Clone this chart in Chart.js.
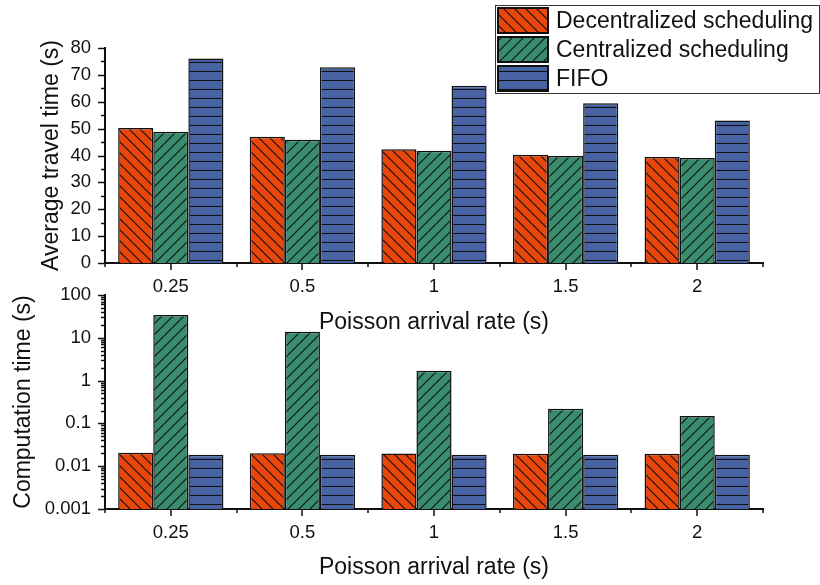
<!DOCTYPE html>
<html>
<head>
<meta charset="utf-8">
<script src="https://cdn.jsdelivr.net/npm/chart.js@4.4.1/dist/chart.umd.min.js"></script>
<style>
  body { margin: 0; background: #fff; width: 820px; height: 585px; overflow: hidden; position: relative; }
  .box { position: absolute; left: 0; width: 820px; }
  #topBox { top: 0; height: 340px; z-index: 2; }
  #botBox { top: 280px; height: 305px; z-index: 1; }
</style>
</head>
<body>
<div class="box" id="topBox"><canvas id="travelChart"></canvas></div>
<div class="box" id="botBox"><canvas id="compChart"></canvas></div>
<script>
// data
const rates = ['0.25', '0.5', '1', '1.5', '2'];
const seriesNames = ['Decentralized scheduling', 'Centralized scheduling', 'FIFO'];

const travelDecentralized = [50.2, 47.0, 42.3, 40.3, 39.4];
const travelCentralized = [48.8, 45.9, 41.8, 39.8, 39.1];
const travelFifo = [76.1, 72.8, 66.0, 59.4, 53.0];

const compDecentralized = [0.0205, 0.0200, 0.0197, 0.0195, 0.0195];
const compCentralized = [34, 13.8, 1.7, 0.22, 0.148];
const compFifo = [0.0186, 0.0185, 0.0185, 0.0185, 0.0184];

const travelTickLabels = ['0', '10', '20', '30', '40', '50', '60', '70', '80'];
const compTickLabels = ['0.001', '0.01', '0.1', '1', '10', '100'];

const FONT = '"Liberation Sans", Arial, sans-serif';
const INK = '#111';

// hatch fills
function makePattern(color, kind) {
    const s = kind === 'h' ? 9 : 11;
    const c = document.createElement('canvas');
    c.width = s; c.height = s;
    const g = c.getContext('2d');
    g.fillStyle = color;
    g.fillRect(0, 0, s, s);
    g.strokeStyle = '#111';
    g.lineWidth = 1.1;
    g.beginPath();
    if (kind === 'h') {
        g.moveTo(0, s - 0.5); g.lineTo(s, s - 0.5);
    } else {
        for (let k = -1; k <= 1; k++) {
            if (kind === 'b') { // "\"
                g.moveTo(-1, -1 + k * s); g.lineTo(s + 1, s + 1 + k * s);
            } else { // "/"
                g.moveTo(-1, s + 1 + k * s); g.lineTo(s + 1, -1 + k * s);
            }
        }
    }
    g.stroke();
    return g.createPattern(c, 'repeat');
}

const fills = [
    makePattern('#E8460A', 'b'),
    makePattern('#3A8C6F', 'f'),
    makePattern('#4863A4', 'h')
];

function datasets(values) {
    return values.map((v, i) => ({
        label: seriesNames[i],
        data: v,
        backgroundColor: fills[i],
        borderColor: INK,
        borderWidth: 1.5,
        categoryPercentage: 0.8,
        barPercentage: 1.0
    }));
}

// outward tick marks drawn from the scales
const tickMarks = {
    id: 'tickMarks',
    afterDraw(chart, args, opts) {
        const {ctx} = chart;
        const x = chart.scales.x, y = chart.scales.y;
        ctx.save();
        ctx.strokeStyle = INK;
        ctx.lineWidth = 1.5;
        ctx.beginPath();
        const n = x.ticks.length;
        for (let i = 0; i < n; i++) {
            const px = Math.round(x.getPixelForTick(i));
            ctx.moveTo(px, x.top); ctx.lineTo(px, x.top + 7);
        }
        for (let i = 0; i <= n; i++) {
            const px = Math.round(x.left + (x.right - x.left) * i / n);
            ctx.moveTo(px, x.top); ctx.lineTo(px, x.top + 4);
        }
        y.ticks.forEach(t => {
            const py = Math.round(y.getPixelForValue(t.value)) + 0.5;
            const len = opts.isMajor(t.value) ? 7 : 4;
            ctx.moveTo(y.right, py); ctx.lineTo(y.right - len, py);
        });
        ctx.stroke();
        ctx.restore();
    }
};

// boxed legend in the upper right
const boxLegend = {
    id: 'boxLegend',
    afterDraw(chart) {
        const {ctx} = chart;
        const w = 324, rowH = 29, swW = 50, swH = 25;
        const right = chart.width - 1, top = 5;
        const left = right - w;
        const h = rowH * 3 + 1;
        ctx.save();
        ctx.fillStyle = '#fff';
        ctx.fillRect(left, top, w, h);
        ctx.strokeStyle = '#333';
        ctx.lineWidth = 1;
        ctx.strokeRect(left + 0.5, top + 0.5, w, h);
        ctx.font = '23px ' + FONT;
        ctx.textBaseline = 'middle';
        chart.data.datasets.forEach((ds, i) => {
            const sy = top + 3 + i * rowH;
            ctx.fillStyle = ds.backgroundColor;
            ctx.fillRect(left + 3, sy, swW, swH);
            ctx.strokeStyle = INK;
            ctx.lineWidth = 2;
            ctx.strokeRect(left + 3, sy, swW, swH);
            ctx.fillStyle = INK;
            ctx.fillText(ds.label, left + 61, sy + swH / 2 + 1);
        });
        ctx.restore();
    }
};

function xScale(height) {
    return {
        type: 'category',
        offset: true,
        grid: { display: false, drawTicks: false },
        border: { color: INK, width: 2 },
        ticks: { color: INK, padding: 13, font: { family: FONT, size: 18.5 } },
        title: {
            display: true, text: 'Poisson arrival rate (s)', color: INK,
            font: { family: FONT, size: 23 }, padding: { top: 4, bottom: 4 }
        },
        afterFit(scale) { scale.height = height; }
    };
}

function yTitle(text) {
    return {
        display: true, text: text, color: INK,
        font: { family: FONT, size: 23 }, padding: { top: 4, bottom: 4 }
    };
}

function yFit(width) {
    return function(scale) {
        scale.width = width;
        scale.paddingTop = 10;
        scale.paddingBottom = 10;
    };
}

document.addEventListener('DOMContentLoaded', function() {
    // Average travel time
    new Chart(document.getElementById('travelChart'), {
        type: 'bar',
        data: {
            labels: rates,
            datasets: datasets([travelDecentralized, travelCentralized, travelFifo])
        },
        options: {
            responsive: true,
            maintainAspectRatio: false,
            animation: false,
            devicePixelRatio: 1,
            layout: { padding: { left: 34, right: 57, top: 48, bottom: 0 } },
            scales: {
                x: xScale(77),
                y: {
                    min: 0,
                    max: 80,
                    grid: { display: false, drawTicks: false },
                    border: { color: INK, width: 2 },
                    ticks: {
                        stepSize: 5,
                        autoSkip: false,
                        padding: 14,
                        color: INK,
                        font: { family: FONT, size: 18.5 },
                        callback: v => (v % 10 === 0 ? travelTickLabels[v / 10] : '')
                    },
                    title: yTitle('Average travel time (s)'),
                    afterFit: yFit(71)
                }
            },
            plugins: {
                legend: { display: false },
                tooltip: { enabled: false },
                tickMarks: { isMajor: v => v % 10 === 0 }
            }
        },
        plugins: [tickMarks, boxLegend]
    });

    // Computation time (log)
    new Chart(document.getElementById('compChart'), {
        type: 'bar',
        data: {
            labels: rates,
            datasets: datasets([compDecentralized, compCentralized, compFifo])
        },
        options: {
            responsive: true,
            maintainAspectRatio: false,
            animation: false,
            devicePixelRatio: 1,
            layout: { padding: { left: 6, right: 57, top: 15, bottom: 0 } },
            scales: {
                x: xScale(76),
                y: {
                    type: 'logarithmic',
                    min: 0.001,
                    max: 100,
                    grid: { display: false, drawTicks: false },
                    border: { color: INK, width: 2 },
                    afterBuildTicks(scale) {
                        const ticks = [];
                        for (let e = -3; e < 2; e++) {
                            for (let m = 1; m < 10; m++) ticks.push({ value: m * Math.pow(10, e) });
                        }
                        ticks.push({ value: 100 });
                        scale.ticks = ticks;
                    },
                    ticks: {
                        autoSkip: false,
                        padding: 14,
                        color: INK,
                        font: { family: FONT, size: 18.5 },
                        callback: v => {
                            const d = Math.log10(v);
                            const r = Math.round(d);
                            return Math.abs(d - r) < 1e-6 ? compTickLabels[r + 3] : '';
                        }
                    },
                    title: yTitle('Computation time (s)'),
                    afterFit: yFit(99)
                }
            },
            plugins: {
                legend: { display: false },
                tooltip: { enabled: false },
                tickMarks: { isMajor: v => Math.abs(Math.log10(v) - Math.round(Math.log10(v))) < 1e-6 }
            }
        },
        plugins: [tickMarks]
    });
});
</script>
</body>
</html>
